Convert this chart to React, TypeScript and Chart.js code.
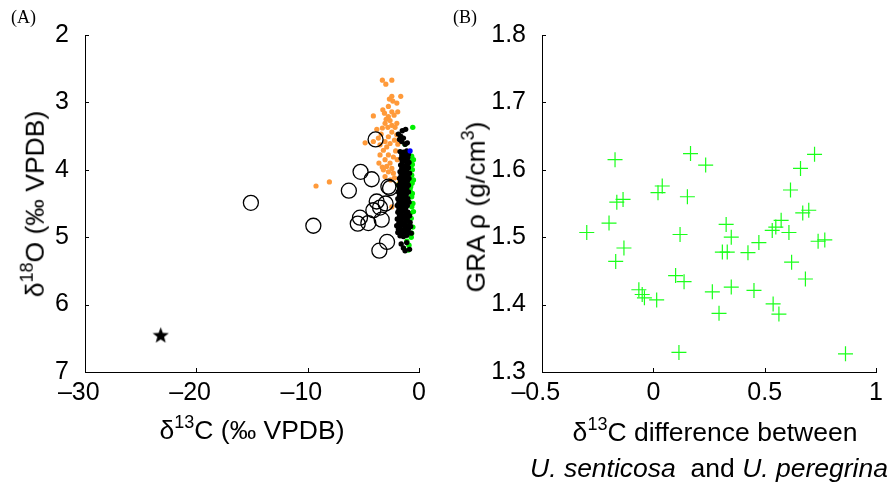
import React, { useEffect, useRef } from 'react';
import { Chart, registerables } from 'chart.js';
Chart.register(...registerables);

const FONT = "'Liberation Sans', Arial, Helvetica, sans-serif";

// Panel A data: [d13C, d18O]
const orangePoints = [
  [-3.29, 2.67], [-2.44, 2.67], [-2.98, 2.73], [-2.44, 2.91], [-1.64, 2.91], [-2.66, 2.95],
  [-1.99, 3.01], [-2.75, 3.06], [-3.25, 3.11], [-2.44, 3.14], [-1.91, 3.14], [-2.24, 3.19],
  [-4.10, 3.20], [-2.75, 3.21], [-3.05, 3.31], [-2.44, 3.34], [-1.99, 3.31], [-2.80, 3.37],
  [-3.79, 3.40], [-3.29, 3.38], [-2.15, 3.37], [-2.44, 3.44], [-2.75, 3.51], [-3.65, 3.53],
  [-3.05, 3.58], [-2.60, 3.61], [-4.10, 3.58], [-3.50, 3.63], [-3.20, 3.71], [-2.75, 3.78],
  [-3.50, 3.78], [-3.05, 3.85], [-2.60, 3.90], [-2.90, 3.95], [-2.30, 3.81], [-2.75, 4.03],
  [-3.05, 4.10], [-2.30, 4.05], [-2.44, 3.98], [-4.84, 3.60], [-2.44, 4.55], [-3.20, 4.00],
  [-9.25, 4.24], [-8.05, 4.18], [-2.0, 3.48], [-1.9, 3.62], [-2.1, 3.72], [-3.4, 3.47],
  [-2.95, 3.25], [-3.6, 3.9], [-2.55, 4.15], [-1.95, 3.85], [-2.2, 3.56], [-3.3, 3.96],
  [-2.6, 3.27], [-2.2, 4.12], [-1.8, 4.2], [-2.9, 3.66], [-3.1, 3.16], [-2.35, 2.98]
];

const greenPoints = [
  [-0.56, 3.37], [-1.25, 3.62], [-0.66, 3.80], [-0.5, 3.85], [-0.8, 3.95], [-0.66, 4.08],
  [-0.95, 4.18], [-1.85, 4.23], [-0.8, 4.3], [-0.66, 4.4], [-0.5, 4.15], [-0.5, 4.62],
  [-0.8, 4.65], [-0.95, 4.79], [-1.25, 4.82], [-0.66, 4.94], [-1.1, 5.06], [-0.95, 5.19],
  [-0.6, 4.0], [-0.55, 4.5], [-0.7, 4.72], [-0.6, 3.92], [-0.75, 4.25], [-0.65, 4.55],
  [-0.55, 4.85], [-0.7, 5.0], [-0.6, 4.35], [-0.8, 3.88], [-0.62, 4.2], [-0.9, 5.12]
];

const blackPoints = [
  [-1.5, 3.42], [-1.2, 3.40], [-1.85, 3.47], [-1.4, 3.53], [-1.65, 3.50], [-1.25, 3.62],
  [-1.55, 3.58], [-1.05, 3.60], [-1.75, 3.55],
  [-1.7, 3.73], [-1.4, 3.74], [-1.1, 3.72],
  [-1.55, 3.78], [-1.25, 3.79], [-0.95, 3.77],
  [-1.6, 3.83], [-1.3, 3.84], [-1.0, 3.82],
  [-1.5, 3.88], [-1.2, 3.87], [-0.9, 3.89],
  [-1.65, 3.93], [-1.35, 3.94], [-1.05, 3.92],
  [-1.55, 3.98], [-1.25, 3.99], [-0.95, 3.97],
  [-1.7, 4.03], [-1.4, 4.04], [-1.1, 4.02], [-0.85, 4.05],
  [-1.6, 4.08], [-1.3, 4.09], [-1.0, 4.07],
  [-1.75, 4.13], [-1.45, 4.14], [-1.15, 4.12], [-0.9, 4.13],
  [-1.65, 4.18], [-1.35, 4.19], [-1.05, 4.17],
  [-1.8, 4.23], [-1.5, 4.24], [-1.2, 4.22], [-0.95, 4.23],
  [-1.7, 4.28], [-1.4, 4.29], [-1.1, 4.27],
  [-1.85, 4.33], [-1.55, 4.34], [-1.25, 4.32], [-0.95, 4.33],
  [-1.75, 4.38], [-1.45, 4.39], [-1.15, 4.37],
  [-1.9, 4.43], [-1.6, 4.44], [-1.3, 4.42], [-1.0, 4.43],
  [-1.8, 4.48], [-1.5, 4.49], [-1.2, 4.47], [-0.9, 4.48],
  [-1.95, 4.53], [-1.65, 4.54], [-1.35, 4.52], [-1.05, 4.53],
  [-1.8, 4.58], [-1.5, 4.59], [-1.2, 4.57],
  [-1.9, 4.63], [-1.6, 4.64], [-1.3, 4.62], [-1.0, 4.63],
  [-1.75, 4.68], [-1.45, 4.69], [-1.15, 4.67], [-0.85, 4.68],
  [-1.95, 4.73], [-1.65, 4.74], [-1.35, 4.72], [-1.05, 4.73],
  [-1.8, 4.78], [-1.5, 4.79], [-1.2, 4.77], [-0.8, 4.78],
  [-2.0, 4.83], [-1.7, 4.84], [-1.4, 4.82], [-1.1, 4.83], [-0.75, 4.84],
  [-1.85, 4.88], [-1.55, 4.89], [-1.25, 4.87], [-0.95, 4.88],
  [-1.9, 4.93], [-1.6, 4.94], [-1.3, 4.92], [-1.0, 4.93], [-0.7, 4.94],
  [-1.7, 4.98], [-1.4, 4.99], [-1.1, 4.97],
  [-1.6, 5.1], [-1.4, 5.16], [-1.25, 5.2], [-0.85, 5.18], [-1.1, 5.08]
];

const bluePoints = [[-0.8, 3.72]];

const circlePoints = [
  [-15.1, 4.49], [-9.49, 4.83], [-6.3, 4.31], [-5.25, 4.03], [-4.25, 4.14], [-3.9, 3.55],
  [-2.75, 4.25], [-2.6, 4.27], [-3.8, 4.47], [-3.0, 4.50], [-3.5, 4.56], [-4.1, 4.60],
  [-5.3, 4.71], [-5.5, 4.80], [-4.55, 4.79], [-3.35, 4.74], [-2.87, 5.07], [-3.56, 5.2]
];

const starPoints = [[-23.2, 6.45]];

const xTicksA = [-30, -20, -10, 0];
const yTicksA = [2, 3, 4, 5, 6, 7];

// Panel B data: [d13C difference, GRA density]
const panelBPoints = [
  [-0.299, 1.507], [-0.199, 1.521], [-0.172, 1.615], [-0.169, 1.464], [-0.164, 1.552],
  [-0.136, 1.556], [-0.132, 1.484], [-0.065, 1.422], [-0.05, 1.415], [-0.04, 1.41],
  [0.015, 1.407], [0.021, 1.566], [0.040, 1.576], [0.115, 1.329], [0.100, 1.443],
  [0.120, 1.504], [0.138, 1.434], [0.153, 1.560], [0.167, 1.624], [0.235, 1.607],
  [0.265, 1.419], [0.295, 1.387], [0.327, 1.519], [0.31, 1.478], [0.332, 1.478],
  [0.350, 1.500], [0.350, 1.426], [0.425, 1.477], [0.452, 1.421], [0.474, 1.492],
  [0.534, 1.510], [0.538, 1.401], [0.564, 1.386], [0.574, 1.525], [0.55, 1.515],
  [0.609, 1.507], [0.616, 1.570], [0.621, 1.463], [0.661, 1.602], [0.671, 1.536],
  [0.698, 1.540], [0.683, 1.438], [0.724, 1.623], [0.74, 1.494], [0.77, 1.496],
  [0.863, 1.327]
];

const xTicksB = [-0.5, 0, 0.5, 1];
const yTicksB = [1.3, 1.4, 1.5, 1.6, 1.7, 1.8];

const toXY = (arr: number[][]) => arr.map(([x, y]) => ({ x, y }));

const fmtNeg = (v: number, digits: number) => {
  const a = Math.abs(v);
  const s = digits > 0 && a !== 0 && a !== 1 ? a.toFixed(digits) : String(a);
  return v < 0 ? '\u2013' + s + '\u2002' : s;
};

const inwardTicks = {
  id: 'inwardTicks',
  afterDatasetsDraw(chart: any) {
    const { ctx, chartArea } = chart;
    const xs = chart.scales.x;
    const ys = chart.scales.y;
    ctx.save();
    ctx.strokeStyle = '#000';
    ctx.lineWidth = 1;
    ctx.beginPath();
    xs.ticks.forEach((t: any) => {
      const p = Math.round(xs.getPixelForValue(t.value)) + 0.5;
      ctx.moveTo(p, chartArea.bottom);
      ctx.lineTo(p, chartArea.bottom - 4);
    });
    ys.ticks.forEach((t: any) => {
      const p = Math.round(ys.getPixelForValue(t.value)) + 0.5;
      ctx.moveTo(chartArea.left, p);
      ctx.lineTo(chartArea.left + 4, p);
    });
    ctx.stroke();
    ctx.restore();
  }
};

function makeStar(size: number) {
  const c = document.createElement('canvas');
  c.width = size;
  c.height = size;
  const ctx = c.getContext('2d')!;
  ctx.fillStyle = '#000';
  ctx.beginPath();
  const cx = size / 2, cy = size / 2 + size * 0.05;
  const R = size / 2, r = R * 0.42;
  for (let i = 0; i < 10; i++) {
    const ang = -Math.PI / 2 + (i * Math.PI) / 5;
    const rad = i % 2 === 0 ? R : r;
    ctx.lineTo(cx + rad * Math.cos(ang), cy + rad * Math.sin(ang));
  }
  ctx.closePath();
  ctx.fill();
  return c;
}

const tickFont = { family: FONT, size: 25 };

function baseScales(xMin: number, xMax: number, xTicks: number[], yMin: number, yMax: number, yTicks: number[], yWidth: number, reverse: boolean, xDigits: number, yDigits: number) {
  return {
    x: {
      type: 'linear',
      min: xMin,
      max: xMax,
      afterBuildTicks: (s: any) => { s.ticks = xTicks.map((v) => ({ value: v })); },
      afterFit: (s: any) => { s.height = 113; },
      grid: { display: false },
      border: { display: true, color: '#000', width: 1 },
      ticks: {
        color: '#000',
        font: tickFont,
        padding: -2,
        maxRotation: 0,
        autoSkip: false,
        callback: (v: any) => fmtNeg(Number(v), xDigits)
      }
    },
    y: {
      type: 'linear',
      min: yMin,
      max: yMax,
      reverse,
      afterBuildTicks: (s: any) => { s.ticks = yTicks.map((v) => ({ value: v })); },
      afterFit: (s: any) => { s.width = yWidth; },
      grid: { display: false },
      border: { display: true, color: '#000', width: 1 },
      ticks: {
        color: '#000',
        font: tickFont,
        padding: 8,
        autoSkip: false,
        callback: (v: any) => (yDigits > 0 ? Number(v).toFixed(yDigits) : String(v))
      }
    }
  };
}

function PanelA() {
  const ref = useRef<HTMLCanvasElement>(null);
  useEffect(() => {
    const star = makeStar(17);
    const chart = new Chart(ref.current!, {
      type: 'scatter',
      data: {
        datasets: [
          { label: 'star', data: toXY(starPoints), pointStyle: star as any, pointRadius: 8, backgroundColor: '#000', borderWidth: 0 },
          { label: 'blue', data: toXY(bluePoints), pointRadius: 2.6, backgroundColor: '#0000ff', borderWidth: 0 },
          { label: 'circles', data: toXY(circlePoints), pointRadius: 7.5, backgroundColor: 'rgba(0,0,0,0)', borderColor: '#000', borderWidth: 1.3 },
          { label: 'black', data: toXY(blackPoints), pointRadius: 2.7, backgroundColor: '#000', borderWidth: 0 },
          { label: 'green', data: toXY(greenPoints), pointRadius: 2.7, backgroundColor: '#00f000', borderWidth: 0 },
          { label: 'orange', data: toXY(orangePoints), pointRadius: 2.6, backgroundColor: '#ff9a3a', borderWidth: 0 }
        ]
      },
      options: {
        animation: false,
        responsive: false,
        devicePixelRatio: 1,
        events: [],
        layout: { padding: { top: 35, right: 26, left: 0, bottom: 0 } },
        plugins: { legend: { display: false }, tooltip: { enabled: false } },
        scales: baseScales(-30, 0, xTicksA, 2, 7, yTicksA, 85, true, 0, 0) as any
      },
      plugins: [inwardTicks]
    });
    return () => chart.destroy();
  }, []);
  return <canvas ref={ref} width={445} height={485} style={{ position: 'absolute', left: 0, top: 0 }} />;
}

function PanelB() {
  const ref = useRef<HTMLCanvasElement>(null);
  useEffect(() => {
    const chart = new Chart(ref.current!, {
      type: 'scatter',
      data: {
        datasets: [
          { label: 'GRA', data: toXY(panelBPoints), pointStyle: 'cross', pointRadius: 7.5, borderColor: '#1aff1a', borderWidth: 1.2, backgroundColor: '#1aff1a' }
        ]
      },
      options: {
        animation: false,
        responsive: false,
        devicePixelRatio: 1,
        events: [],
        layout: { padding: { top: 35, right: 14, left: 0, bottom: 0 } },
        plugins: { legend: { display: false }, tooltip: { enabled: false } },
        scales: baseScales(-0.5, 1, xTicksB, 1.3, 1.8, yTicksB, 97, false, 1, 1) as any
      },
      plugins: [inwardTicks]
    });
    return () => chart.destroy();
  }, []);
  return <canvas ref={ref} width={445} height={485} style={{ position: 'absolute', left: 445, top: 0 }} />;
}

const supStyle: React.CSSProperties = { fontSize: '0.68em', position: 'relative', top: '-0.6em', verticalAlign: 'baseline' };

const titleBase: React.CSSProperties = {
  position: 'absolute',
  fontFamily: FONT,
  fontSize: 26.5,
  lineHeight: 1,
  whiteSpace: 'pre',
  color: '#000',
  transform: 'translate(-50%, -50%)'
};

export default function App() {
  return (
    <div style={{ position: 'fixed', left: 0, top: 0, width: 890, height: 485, background: '#fff', overflow: 'hidden' }}>
      <PanelA />
      <PanelB />
      <div style={{ position: 'absolute', left: 11, top: 7, fontFamily: "'Liberation Serif', 'Times New Roman', serif", fontSize: 18 }}>(A)</div>
      <div style={{ position: 'absolute', left: 453, top: 7, fontFamily: "'Liberation Serif', 'Times New Roman', serif", fontSize: 18 }}>(B)</div>
      <div style={{ ...titleBase, left: 35, top: 204, transform: 'translate(-50%, -50%) rotate(-90deg)' }}>
        δ<span style={supStyle}>18</span>O (‰ VPDB)
      </div>
      <div style={{ ...titleBase, left: 252, top: 430 }}>
        δ<span style={supStyle}>13</span>C (‰ VPDB)
      </div>
      <div style={{ ...titleBase, left: 476, top: 207, transform: 'translate(-50%, -50%) rotate(-90deg)' }}>
        GRA ρ (g/cm<span style={supStyle}>3</span>)
      </div>
      <div style={{ ...titleBase, left: 715, top: 432 }}>
        δ<span style={supStyle}>13</span>C difference between
      </div>
      <div style={{ ...titleBase, left: 709, top: 468 }}>
        <i>U. senticosa</i>{'  and '}<i>U. peregrina</i>
      </div>
    </div>
  );
}
